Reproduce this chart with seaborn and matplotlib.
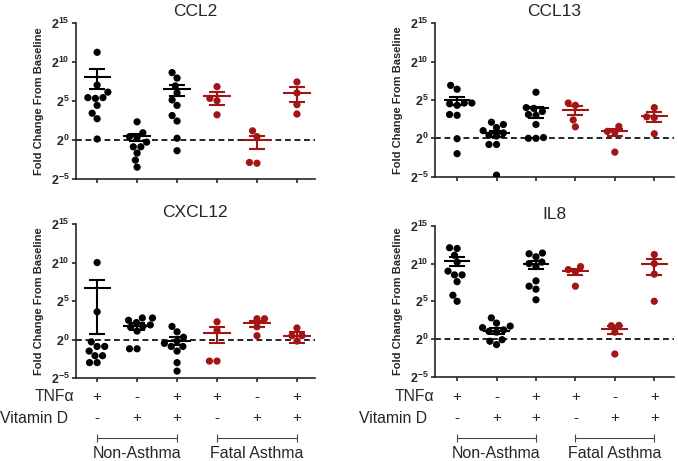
import pandas as pd
import matplotlib
matplotlib.use('Agg')
import matplotlib.pyplot as plt
import matplotlib.transforms as mtransforms
import seaborn as sns

# conditions (x categories) and their annotation rows
conditions = ['NA_T', 'NA_D', 'NA_TD', 'FA_T', 'FA_D', 'FA_TD']
groups = ['Non-Asthma'] * 3 + ['Fatal Asthma'] * 3
tnf_signs = ['+', '-', '+', '+', '-', '+']
vitd_signs = ['-', '+', '+', '-', '+', '+']
y_ticks = [-5, 0, 5, 10, 15]

# log2 fold change of each sample, one list per condition
ccl2_points = [
    [11.2, 7.0, 6.1, 5.4, 5.4, 5.3, 4.4, 3.4, 2.7, 0.1],
    [2.3, 0.9, 0.4, 0.3, -0.3, -0.9, -0.9, -1.7, -2.6, -3.5],
    [8.6, 7.9, 6.9, 6.0, 5.1, 4.4, 3.1, 2.4, 0.2, -1.4],
    [6.8, 5.3, 5.0, 3.2],
    [1.15, 0.4, -2.9, -3.0],
    [7.4, 6.0, 4.5, 3.3],
]
ccl2_mean = [8.1, 0.45, 6.5, 5.6, -0.05, 6.05]
ccl2_hi = [9.0, 0.8, 7.0, 6.1, 0.5, 6.7]
ccl2_lo = [6.5, -0.2, 5.6, 4.5, -1.2, 4.9]

ccl13_points = [
    [6.9, 6.4, 4.6, 4.6, 4.5, 4.3, 3.0, 3.1, -0.05, -2.0],
    [2.1, 1.8, 1.4, 1.0, 0.7, 0.4, 0.3, -0.8, -0.8, -4.8],
    [6.0, 4.0, 3.9, 3.5, 3.0, 3.1, 1.8, 0.1, 0.0, 0.0],
    [4.6, 4.3, 2.4, 1.5],
    [1.55, 0.9, 0.75, -1.8],
    [4.0, 2.8, 2.7, 0.6],
]
ccl13_mean = [5.0, 0.66, 3.9, 3.7, 0.9, 2.9]
ccl13_hi = [5.4, 1.0, 4.1, 4.2, 1.2, 3.4]
ccl13_lo = [4.3, 0.2, 2.7, 3.0, 0.3, 2.1]

cxcl12_points = [
    [10.0, 3.6, -0.3, -0.9, -0.9, -1.5, -2.1, -2.1, -3.0, -3.0],
    [2.8, 2.8, 2.5, 2.2, 1.9, 1.7, 1.6, 1.1, -1.2, -1.2],
    [1.7, 1.0, 0.3, -0.2, -0.5, -0.9, -0.9, -1.5, -3.0, -4.1],
    [2.3, 1.2, -2.8, -2.8],
    [2.7, 2.7, 1.65, 0.5],
    [1.5, 0.5, 0.5, -0.2],
]
cxcl12_mean = [6.7, 1.74, -0.2, 0.87, 2.1, 0.43]
cxcl12_hi = [7.7, 2.1, 0.35, 1.6, 2.4, 0.95]
cxcl12_lo = [0.7, 1.3, -0.75, -0.5, 1.65, -0.43]

il8_points = [
    [12.1, 12.0, 11.1, 10.2, 9.0, 8.5, 8.5, 7.6, 5.8, 5.0],
    [2.8, 2.1, 1.7, 1.5, 1.2, 1.0, 0.9, -0.1, -0.3, -0.75],
    [11.4, 11.3, 10.9, 10.2, 10.0, 9.6, 7.7, 7.0, 6.6, 5.2],
    [9.6, 9.2, 8.9, 7.0],
    [1.8, 1.75, 0.9, -2.0],
    [11.2, 10.0, 8.6, 5.0],
]
il8_mean = [10.3, 1.1, 9.9, 8.95, 1.3, 9.9]
il8_hi = [10.9, 1.4, 10.4, 9.3, 1.67, 10.6]
il8_lo = [9.65, 0.66, 9.3, 8.5, 0.66, 8.55]

panels = {
    'CCL2': (ccl2_points, ccl2_mean, ccl2_hi, ccl2_lo),
    'CCL13': (ccl13_points, ccl13_mean, ccl13_hi, ccl13_lo),
    'CXCL12': (cxcl12_points, cxcl12_mean, cxcl12_hi, cxcl12_lo),
    'IL8': (il8_points, il8_mean, il8_hi, il8_lo),
}

palette = {'Non-Asthma': '#000000', 'Fatal Asthma': '#a31515'}

sns.set_style('ticks')
plt.rcParams['font.family'] = ['Liberation Sans', 'DejaVu Sans']
plt.rcParams['mathtext.fontset'] = 'custom'
plt.rcParams['mathtext.rm'] = 'Liberation Sans'
plt.rcParams['mathtext.bf'] = 'Liberation Sans:bold'

fig = plt.figure(figsize=(6.78, 4.61), dpi=100)

# axes rectangles in figure fractions
positions = {
    'CCL2': [0.112, 0.612, 0.3525, 0.339],
    'CCL13': [0.6416, 0.6167, 0.3525, 0.333],
    'CXCL12': [0.112, 0.180, 0.3525, 0.334],
    'IL8': [0.6416, 0.183, 0.3525, 0.327],
}
xlims = {
    'CCL2': (-0.53, 5.45),
    'CCL13': (-0.56, 5.5),
    'CXCL12': (-0.53, 5.45),
    'IL8': (-0.56, 5.5),
}

for name, (points, mean, hi, lo) in panels.items():
    ax = fig.add_axes(positions[name])
    rows = []
    for i, vals in enumerate(points):
        for v in vals:
            rows.append({'cond': conditions[i], 'group': groups[i], 'log2fc': v})
    df = pd.DataFrame(rows)

    ax.axhline(0, color='black', ls='--', lw=1.2, dashes=(3.5, 2.2), zorder=1)
    sns.swarmplot(data=df, x='cond', y='log2fc', hue='group', order=conditions,
                  palette=palette, size=5.2, ax=ax, legend=False, zorder=3)

    # mean +/- SEM
    for i in range(len(conditions)):
        c = palette[groups[i]]
        ax.hlines(mean[i], i - 0.34, i + 0.34, color=c, lw=1.5, zorder=4)
        ax.errorbar(i, mean[i], yerr=[[mean[i] - lo[i]], [hi[i] - mean[i]]],
                    fmt='none', ecolor=c, elinewidth=1.5, capsize=6, capthick=1.5, zorder=4)

    ax.set_xlim(xlims[name])
    ax.set_ylim(-5, 15)
    ax.set_yticks(y_ticks)
    ax.set_yticklabels([r'$\mathbf{2^{%d}}$' % t for t in y_ticks], fontsize=9)
    ax.set_xticks(range(len(conditions)))
    ax.set_xticklabels([])
    ax.set_xlabel('')
    ax.set_ylabel('Fold Change From Baseline', fontsize=8, fontweight='bold', labelpad=5)
    ax.set_title(name, fontsize=12.5, pad=5)
    ax.tick_params(axis='both', length=3, width=1.2, pad=1.5)
    for s in ['left', 'bottom']:
        ax.spines[s].set_linewidth(1.2)
    sns.despine(ax=ax)

    # treatment table under the bottom panels
    if name in ('CXCL12', 'IL8'):
        blend = mtransforms.blended_transform_factory(ax.transData, fig.transFigure)
        for i in range(len(conditions)):
            ax.text(i, 0.139, tnf_signs[i], transform=blend, ha='center', va='center', fontsize=11)
            ax.text(i, 0.093, vitd_signs[i], transform=blend, ha='center', va='center', fontsize=11)
        x0 = ax.get_xlim()[0]
        ax.text(x0 - 0.03, 0.139, 'TNFα', transform=blend, ha='right', va='center', fontsize=11.3)
        ax.text(x0 - 0.2, 0.093, 'Vitamin D', transform=blend, ha='right', va='center', fontsize=11.3)
        for a, b, label in [(0, 2, 'Non-Asthma'), (3, 5, 'Fatal Asthma')]:
            ax.plot([a, b], [0.05, 0.05], transform=blend, color='#444444', lw=0.8,
                    marker='|', markersize=6, markeredgewidth=0.8, clip_on=False)
            ax.text((a + b) / 2, 0.016, label, transform=blend, ha='center', va='center',
                    fontsize=11.5)

fig.savefig('out.png', dpi=100)
